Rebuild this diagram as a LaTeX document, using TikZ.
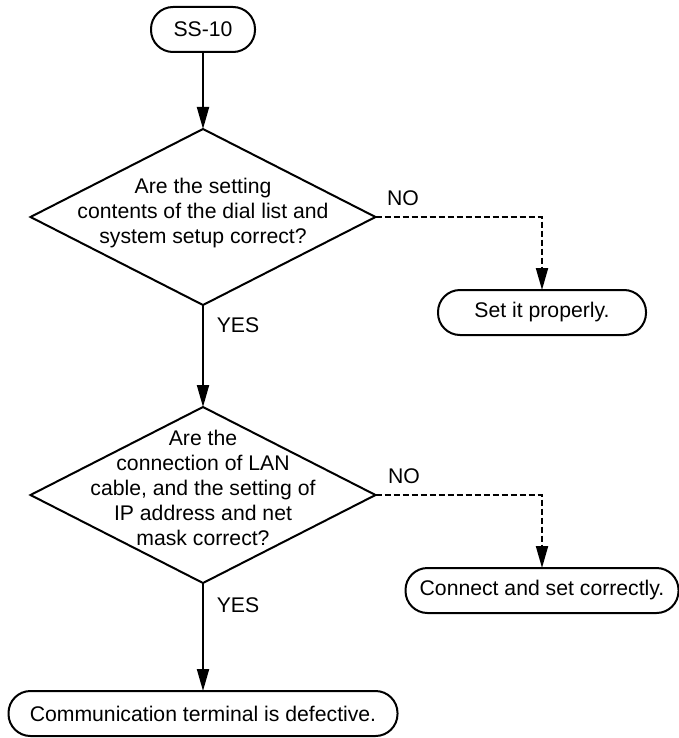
\documentclass[tikz,border=0pt]{standalone}
\usepackage{fontspec}
\setmainfont{Liberation Sans}
\usetikzlibrary{shapes.geometric, arrows.meta}

\begin{document}
\begin{tikzpicture}[
    x=0.5pt, y=-0.5pt,
    font=\fontsize{10.6}{12.5}\selectfont, line width=1pt,
    >={Triangle[length=11pt, width=6pt]},
    terminal/.style={draw, rectangle, rounded corners=11pt, minimum height=22.5pt, inner sep=0pt, outer sep=0pt},
    decision/.style={draw, diamond, minimum width=172.5pt, minimum height=88pt, inner sep=0pt, outer sep=0pt},
    question/.style={align=center, inner sep=0pt},
    answer/.style={inner sep=0pt},
    nopath/.style={->, dash pattern=on 3pt off 1.5pt}
  ]
    \useasboundingbox (0,0) rectangle (679,738);

    % --- TERMINALES ---
    \node[terminal, minimum width=52pt] (start) at (203,29.5) {SS-10};
    \node[terminal, minimum width=104pt] (setit) at (542,312.5) {Set it properly.};
    \node[terminal, minimum width=136.5pt] (conn) at (542,590.5) {Connect and set correctly.};
    \node[terminal, minimum width=194.5pt] (defect) at (203,713.5) {Communication terminal is defective.};

    % --- DECISIONES ---
    \node[decision] (dial) at (203,217) {};
    \node[question] (dialq) at ([yshift=2pt]dial.center) {Are the setting\\contents of the dial list and\\system setup correct?};

    \node[decision] (lan) at (203,495) {};
    \node[question] (lanq) at ([yshift=3.5pt]lan.center) {Are the\\connection of LAN\\cable, and the setting of\\IP address and net\\mask correct?};

    % --- CONEXIONES ---
    \draw[->] (start.south) -- (dial.north);
    \draw[->] (dial.south) -- (lan.north);
    \draw[->] (lan.south) -- (defect.north);
    \draw[nopath] (dial.east) -| (setit.north);
    \draw[nopath] (lan.east) -| (conn.north);

    % --- ETIQUETAS SI/NO ---
    \node[answer] (no1) at (403,198) {NO};
    \node[answer] (yes1) at (238,325) {YES};
    \node[answer] (no2) at (404,476) {NO};
    \node[answer] (yes2) at (238,605) {YES};

\end{tikzpicture}
\end{document}
